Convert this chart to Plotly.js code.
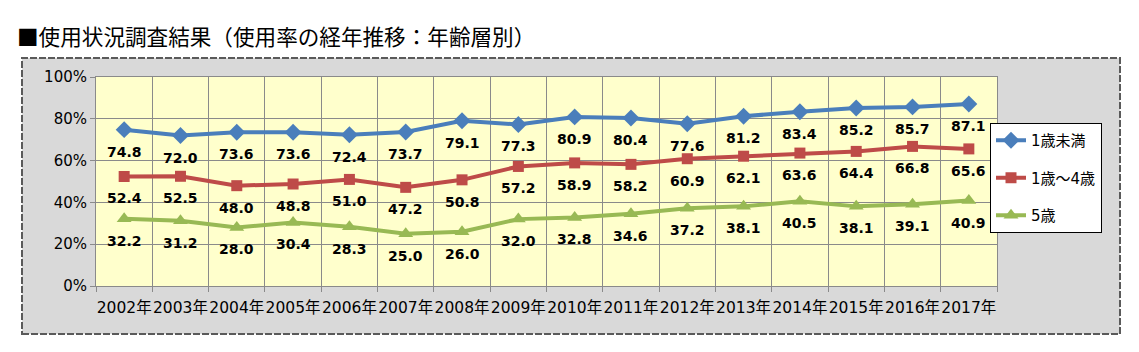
<!DOCTYPE html>
<html>
<head>
<meta charset="utf-8">
<script src="https://cdn.plot.ly/plotly-3.0.1.min.js"></script>
<style>html,body{margin:0;padding:0;background:#fff;}#chart{width:1139px;height:352px;}</style>
</head>
<body>
<div id="chart"></div>
<script>
var years = ["2002年","2003年","2004年","2005年","2006年","2007年","2008年","2009年","2010年","2011年","2012年","2013年","2014年","2015年","2016年","2017年"];
var seriesNames = ["1歳未満","1歳～4歳","5歳"];
var under1 = [74.8,72.0,73.6,73.6,72.4,73.7,79.1,77.3,80.9,80.4,77.6,81.2,83.4,85.2,85.7,87.1];
var age1to4 = [52.4,52.5,48.0,48.8,51.0,47.2,50.8,57.2,58.9,58.2,60.9,62.1,63.6,64.4,66.8,65.6];
var age5 = [32.2,31.2,28.0,30.4,28.3,25.0,26.0,32.0,32.8,34.6,37.2,38.1,40.5,38.1,39.1,40.9];
var yTicks = [0,20,40,60,80,100];
var yTickLabels = ["0%","20%","40%","60%","80%","100%"];

var colors = ["#4A7EBB","#BE4B48","#98B954"];
var symbols = ["diamond","square","triangle-up"];
var msizes = [13,11,13];
var allSeries = [under1, age1to4, age5];

var traces = allSeries.map(function(vals, i){
  return {
    type: "scatter", mode: "lines+markers",
    x: years, y: vals, name: seriesNames[i],
    legendgroup: "g"+i,
    line: {color: colors[i], width: 4},
    marker: {color: colors[i], symbol: symbols[i], size: msizes[i]},
    hoverinfo: "skip"
  };
});

var annotations = [];
allSeries.forEach(function(vals){
  vals.forEach(function(v, j){
    annotations.push({
      x: years[j], y: v, xref: "x", yref: "y",
      text: "<b>" + v.toFixed(1) + "</b>", showarrow: false, yshift: -22,
      font: {family: "DejaVu Sans, sans-serif", size: 14, color: "#000", weight: 700},
      xanchor: "center", yanchor: "middle"
    });
  });
});

var layout = {
  width: 1139, height: 352,
  margin: {l: 96, r: 142, t: 77, b: 66},
  paper_bgcolor: "#ffffff",
  plot_bgcolor: "rgba(0,0,0,0)",
  showlegend: true,
  title: {
    text: "■使用状況調査結果（使用率の経年推移：年齢層別）",
    xref: "container", yref: "container",
    x: 17/1139, xanchor: "left", y: 1-37/352, yanchor: "middle",
    font: {family: "Noto Sans CJK JP, sans-serif", size: 21.6, color: "#000"}
  },
  xaxis: {
    type: "category", range: [-0.5, 15.5],
    tickson: "boundaries", tickangle: 0, ticklabelstandoff: 7,
    showgrid: true, gridcolor: "#8a8a8a", gridwidth: 1,
    showline: true, linecolor: "#8a8a8a", linewidth: 1, mirror: true,
    ticks: "outside", ticklen: 5, tickcolor: "#8a8a8a",
    tickfont: {family: "DejaVu Sans, Noto Sans CJK JP, sans-serif", size: 15.5, color: "#000"},
    fixedrange: true, zeroline: false
  },
  yaxis: {
    range: [0, 100], tickmode: "array", tickvals: yTicks, ticktext: yTickLabels,
    showgrid: true, gridcolor: "#8a8a8a", gridwidth: 1,
    showline: true, linecolor: "#8a8a8a", linewidth: 1, mirror: true,
    ticks: "outside", ticklen: 5, tickcolor: "#8a8a8a",
    tickfont: {family: "DejaVu Sans, sans-serif", size: 15, color: "#000"},
    zeroline: false, fixedrange: true
  },
  legend: {
    x: (990-96)/901, xanchor: "left",
    y: (286-123)/209, yanchor: "top",
    bgcolor: "#ffffff", bordercolor: "#000000", borderwidth: 1,
    font: {family: "DejaVu Sans, Noto Sans CJK JP, sans-serif", size: 15, color: "#000"},
    tracegroupgap: 15, traceorder: "grouped"
  },
  shapes: [
    {type: "rect", xref: "paper", yref: "paper", layer: "below",
     x0: (22-96)/901, x1: (1120-96)/901, y0: (286-334)/209, y1: (286-58)/209,
     fillcolor: "#D9D9D9", line: {color: "#5a5a5a", width: 2, dash: "7px,2px"}},
    {type: "rect", xref: "paper", yref: "paper", layer: "below",
     x0: 0, x1: 1, y0: 0, y1: 1,
     fillcolor: "#FFFFCC", line: {width: 0}}
  ],
  annotations: annotations
};

Plotly.newPlot("chart", traces, layout, {staticPlot: true, displayModeBar: false});
</script>
</body>
</html>
